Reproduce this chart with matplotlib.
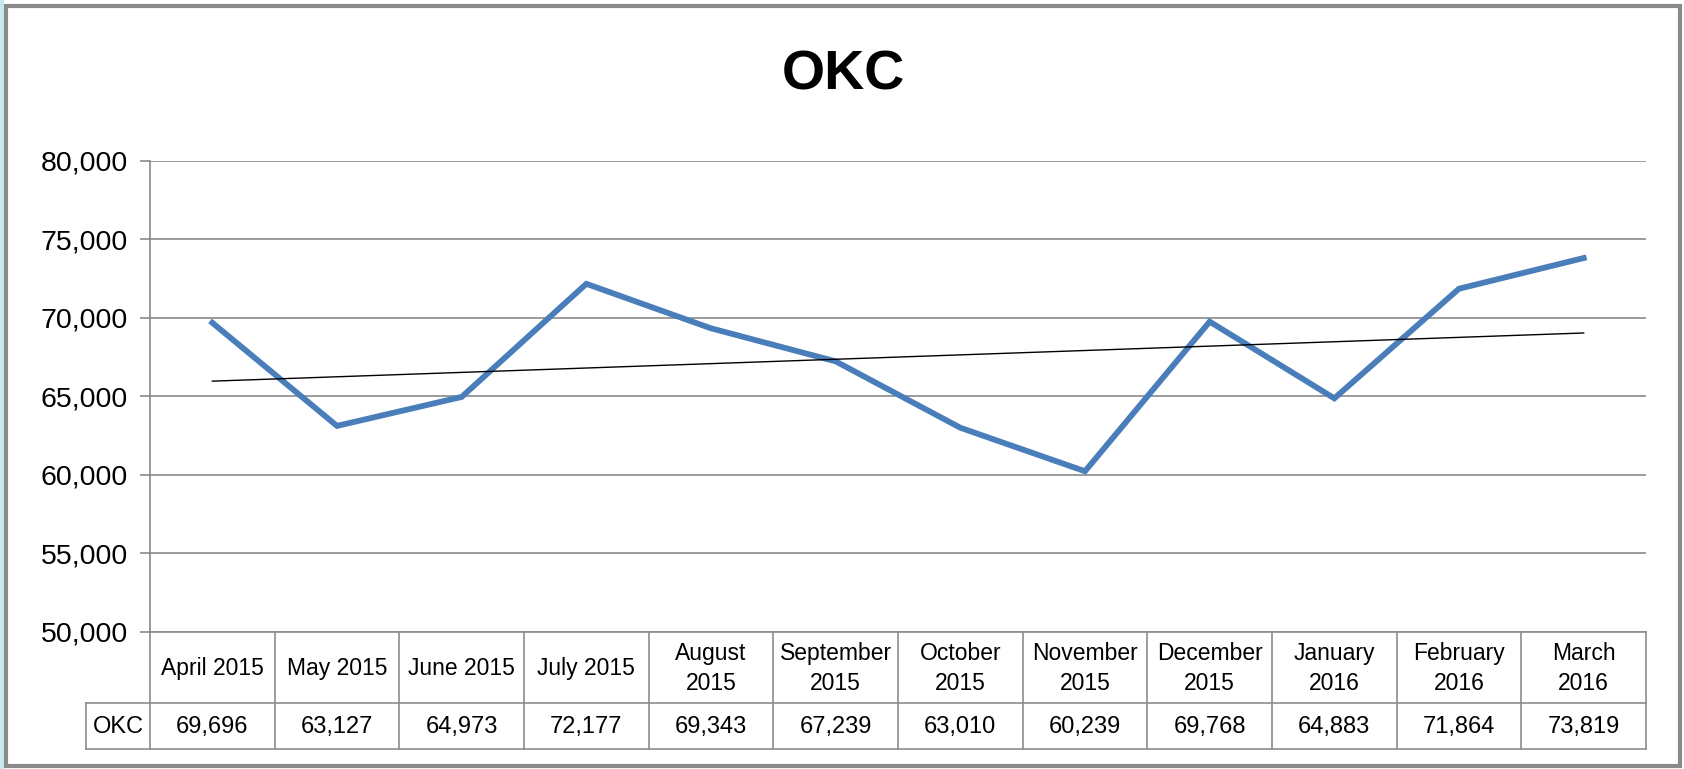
import numpy as np
import matplotlib
matplotlib.use("Agg")
import matplotlib.pyplot as plt
from matplotlib.transforms import blended_transform_factory
from matplotlib.patches import Rectangle

plt.rcParams['font.family'] = ['Liberation Sans', 'DejaVu Sans']

# data
months = ['April 2015', 'May 2015', 'June 2015', 'July 2015', 'August\n2015',
          'September\n2015', 'October\n2015', 'November\n2015', 'December\n2015',
          'January\n2016', 'February\n2016', 'March\n2016']
okc = [69696, 63127, 64973, 72177, 69343, 67239, 63010, 60239, 69768, 64883, 71864, 73819]
series_name = 'OKC'
y_ticks = [50000, 55000, 60000, 65000, 70000, 75000, 80000]

W, H = 1684, 769
fig = plt.figure(figsize=(W / 100, H / 100), dpi=100)

def fx(px):
    return px / W

def fy(px):
    return 1 - px / H

# plot area in pixel terms
left, right, top, bottom = 150, 1646, 161, 632
ax = fig.add_axes([fx(left), fy(bottom), fx(right - left), (bottom - top) / H])

x = np.arange(len(okc))
ax.plot(x, okc, color='#4a7ebb', lw=4.2, solid_joinstyle='miter', zorder=3)

# linear trend line
k, b = np.polyfit(x, okc, 1)
ax.plot(x, k * x + b, color='black', lw=1.0, zorder=4)

ax.set_xlim(-0.5, len(okc) - 0.5)
ax.set_ylim(y_ticks[0], y_ticks[-1])
ax.set_yticks(y_ticks)
ax.set_yticklabels([f'{v:,}' for v in y_ticks], fontsize=20.5)
ax.set_xticks([])
ax.grid(axis='y', color='#8a8a8a', lw=1.2)
ax.set_axisbelow(True)
for s in ['top', 'right', 'bottom']:
    ax.spines[s].set_visible(False)
ax.spines['left'].set_color('#8a8a8a')
ax.spines['left'].set_linewidth(1.2)
ax.tick_params(axis='y', length=7, width=1.2, color='#8a8a8a', pad=9)

# title
fig.text(fx(843), fy(75), series_name, ha='center', va='center',
         fontsize=40, fontweight='bold')

# data table under the axis
tr = blended_transform_factory(ax.transData, fig.transFigure)
lc = '#8c8c8c'
row1, row2, row3 = 632, 703, 749
n = len(okc)
edges = np.arange(n + 1) - 0.5
for e in edges:
    ax.plot([e, e], [fy(row1), fy(row3)], transform=tr, color=lc, lw=1.2,
            clip_on=False)
ax.plot([edges[0], edges[-1]], [fy(row1)] * 2, transform=tr, color=lc, lw=1.2, clip_on=False)
for r in (row2, row3):
    fig.add_artist(plt.Line2D([fx(86), fx(right)], [fy(r)] * 2, color=lc, lw=1.2))
fig.add_artist(plt.Line2D([fx(86)] * 2, [fy(row2), fy(row3)], color=lc, lw=1.2))

for i, (m, v) in enumerate(zip(months, okc)):
    ax.text(i, fy((row1 + row2) / 2 + 1), m, transform=tr, ha='center', va='center',
            fontsize=16.5, linespacing=1.4)
    ax.text(i, fy((row2 + row3) / 2 + 1), f'{v:,}', transform=tr, ha='center',
            va='center', fontsize=17)
fig.text(fx(118), fy((row2 + row3) / 2 + 1), series_name, ha='center', va='center',
         fontsize=17)

# outer chart border
fig.add_artist(Rectangle((0, 0), fx(4), 1, transform=fig.transFigure,
                         color='#c8e8f0', lw=0))
fig.add_artist(Rectangle((fx(6), fy(766)), fx(1674), (766 - 6) / H,
                         transform=fig.transFigure, fill=False,
                         edgecolor='#8a8a8a', lw=3))

fig.savefig('out.png', dpi=100)
